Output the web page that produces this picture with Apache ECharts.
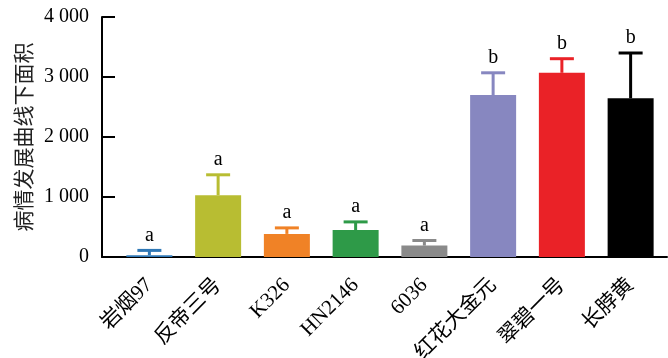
<!DOCTYPE html>
<html>
<head>
<meta charset="utf-8">
<script src="https://cdn.jsdelivr.net/npm/echarts@6/dist/echarts.min.js"></script>
<style>
  html, body { margin: 0; padding: 0; background: #fff; }
  #chart { width: 668px; height: 358px; }
</style>
</head>
<body>
<div id="chart"></div>
<script>
// Cultivars on the x axis
const categories = ['岩烟97', '反帝三号', 'K326', 'HN2146', '6036', '红花大金元', '翠碧一号', '长脖黄'];
// Area under the disease progress curve (mean)
const meanValues = [30, 1030, 385, 450, 190, 2700, 3070, 2645];
// Upper error (standard deviation)
const errorValues = [80, 340, 100, 135, 85, 370, 235, 755];
// Significance letters
const sigLetters = ['a', 'a', 'a', 'a', 'a', 'b', 'b', 'b'];
// Bar colours
const barColors = ['#2f78b6', '#b8bd32', '#f08226', '#2e9a48', '#8a8a8a', '#8787c0', '#ea2227', '#000000'];
// Y axis ticks
const yTicks = [0, 1000, 2000, 3000, 4000];

const serif = '"Liberation Serif", "DejaVu Serif", serif';
const serifCJK = '"Liberation Serif", "Noto Sans CJK SC", serif';
const chart = echarts.init(document.getElementById('chart'));

const fmtTick = v => {
  const s = String(v);
  return s.length > 3 ? s.slice(0, s.length - 3) + ' ' + s.slice(-3) : s;
};

const gridTop = 17, gridBottom = 101;

chart.setOption({
  animation: false,
  grid: [
    { left: 102, right: 1, top: gridTop, bottom: gridBottom, outerBoundsMode: 'none', containLabel: false },
    { left: 115, right: 3, top: gridTop, bottom: gridBottom, outerBoundsMode: 'none', containLabel: false }
  ],
  xAxis: [
    {
      gridIndex: 0, type: 'value', min: 0, max: 1,
      axisLine: { show: true, lineStyle: { color: '#000', width: 2 } },
      axisTick: { show: false }, axisLabel: { show: false }, splitLine: { show: false }
    },
    {
      gridIndex: 1, type: 'category', data: categories,
      axisLine: { show: false }, axisTick: { show: false },
      axisLabel: {
        interval: 0, rotate: 45, margin: 25,
        fontFamily: serifCJK, fontSize: 21, color: '#000'
      }
    }
  ],
  yAxis: [
    {
      gridIndex: 0, type: 'value', min: yTicks[0], max: yTicks[yTicks.length - 1], interval: 1000,
      name: '病情发展曲线下面积', nameLocation: 'middle', nameRotate: 90, nameGap: 68,
      nameTextStyle: { fontFamily: '"Noto Sans CJK SC", sans-serif', fontSize: 21, color: '#222' },
      axisLine: { show: true, lineStyle: { color: '#000', width: 2 } },
      axisTick: { show: true, inside: true, length: 13, lineStyle: { color: '#000', width: 2 } },
      axisLabel: { formatter: fmtTick, fontFamily: serif, fontSize: 20, color: '#000', margin: 13 },
      splitLine: { show: false }
    },
    {
      gridIndex: 1, type: 'value', min: yTicks[0], max: yTicks[yTicks.length - 1],
      show: false, splitLine: { show: false }
    }
  ],
  series: [
    {
      type: 'bar', xAxisIndex: 1, yAxisIndex: 1,
      data: meanValues.map((v, i) => ({ value: v, itemStyle: { color: barColors[i] } })),
      barWidth: 46
    },
    {
      type: 'custom', xAxisIndex: 1, yAxisIndex: 1,
      data: meanValues.map((v, i) => [i, v, v + errorValues[i]]),
      renderItem: (params, api) => {
        const i = api.value(0);
        const base = api.coord([i, api.value(1)]);
        const top = api.coord([i, api.value(2)]);
        const color = barColors[i];
        const capHalf = 12;
        return {
          type: 'group',
          children: [
            { type: 'line', shape: { x1: base[0], y1: base[1], x2: top[0], y2: top[1] },
              style: { stroke: color, lineWidth: 3 } },
            { type: 'line', shape: { x1: top[0] - capHalf, y1: top[1], x2: top[0] + capHalf, y2: top[1] },
              style: { stroke: color, lineWidth: 3 } },
            { type: 'text', x: top[0], y: top[1] - 5,
              style: { text: sigLetters[i], fill: '#000', font: '20px ' + serif,
                       align: 'center', verticalAlign: 'bottom' } }
          ]
        };
      },
      z: 3
    }
  ]
});
</script>
</body>
</html>
